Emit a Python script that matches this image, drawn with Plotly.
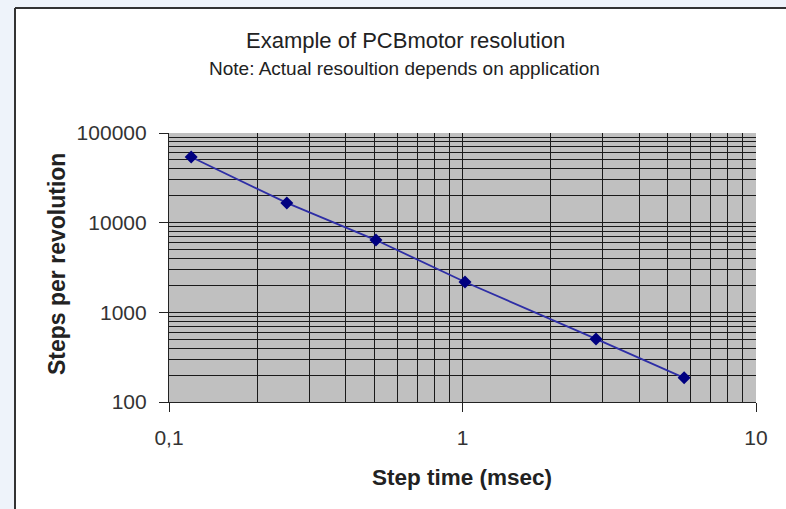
import plotly.graph_objects as go

# Data
step_time_ms = [0.119, 0.252, 0.507, 1.02, 2.85, 5.69]
steps_per_rev = [54000, 16600, 6400, 2180, 505, 186]

x_tick_vals = [0.1, 1, 10]
x_tick_text = ["0,1", "1", "10"]
y_tick_vals = [100, 1000, 10000, 100000]
y_tick_text = ["100", "1000", "10000", "100000"]

x_minor = [m * 10 ** e for e in (-1, 0) for m in range(2, 10)]
y_minor = [m * 10 ** e for e in (2, 3, 4) for m in range(2, 10)]

W, H = 786, 509
L, R, T, B = 169, 30, 133, 107
PW, PH = W - L - R, H - T - B

def px(x):
    return (x - L) / PW

def py(y):
    return (H - B - y) / PH

fig = go.Figure()
fig.add_trace(go.Scatter(
    x=step_time_ms, y=steps_per_rev, mode="lines+markers",
    line=dict(color="#2e2ea6", width=1.8),
    marker=dict(symbol="diamond", size=10, color="#000080"),
    showlegend=False, hoverinfo="skip",
))

font = "Arial, Liberation Sans, sans-serif"
grid = "#1a1a1a"
axis_common = dict(
    type="log", showgrid=True, gridcolor=grid, gridwidth=1.4,
    ticks="outside", ticklen=9, tickcolor="#222", tickwidth=1.2,
    showline=True, linecolor="#222", linewidth=1.2,
    tickfont=dict(size=21, color="#333"), zeroline=False,
)
fig.update_layout(
    width=W, height=H,
    margin=dict(l=L, r=R, t=T, b=B),
    paper_bgcolor="white", plot_bgcolor="#c0c0c0",
    font=dict(family=font, color="#222"),
    xaxis=dict(range=[-1, 1], tickvals=x_tick_vals, ticktext=x_tick_text,
               minor=dict(tickvals=x_minor, showgrid=True, gridcolor=grid, gridwidth=1.4, ticks=""),
               ticklabelstandoff=8, **axis_common),
    yaxis=dict(range=[2, 5], tickvals=y_tick_vals, ticktext=y_tick_text,
               minor=dict(tickvals=y_minor, showgrid=True, gridcolor=grid, gridwidth=1.4, ticks=""),
               ticklabelstandoff=8, **axis_common),
)

annos = [
    dict(text="Example of PCBmotor resolution", x=px(405), y=py(40), font=dict(size=22, color="#222")),
    dict(text="Note: Actual resoultion depends on application", x=px(404), y=py(68), font=dict(size=19, color="#222")),
    dict(text="<b>Step time (msec)</b>", x=px(462), y=py(477), font=dict(size=22.5, color="#222")),
    dict(text="<b>Steps per revolution</b>", x=px(57), y=py(264), textangle=-90, font=dict(size=23, color="#222")),
]
for a in annos:
    fig.add_annotation(xref="paper", yref="paper", showarrow=False,
                       xanchor="center", yanchor="middle", **a)

# outer slide background strips and chart frame
bg = "#eef3fa"
fig.add_shape(type="rect", xref="paper", yref="paper", x0=px(-5), x1=px(15), y0=py(520), y1=py(-5),
              fillcolor=bg, line=dict(width=0), layer="above")
fig.add_shape(type="rect", xref="paper", yref="paper", x0=px(-5), x1=px(800), y0=py(8), y1=py(-5),
              fillcolor=bg, line=dict(width=0), layer="above")
fig.add_shape(type="line", xref="paper", yref="paper", x0=px(15), x1=px(15), y0=py(8), y1=py(520),
              line=dict(color="#333", width=2), layer="above")
fig.add_shape(type="line", xref="paper", yref="paper", x0=px(15), x1=px(800), y0=py(8), y1=py(8),
              line=dict(color="#333", width=2), layer="above")

fig.write_html("out.html", config={"displayModeBar": False},
               post_script="document.body.style.margin='0';")
